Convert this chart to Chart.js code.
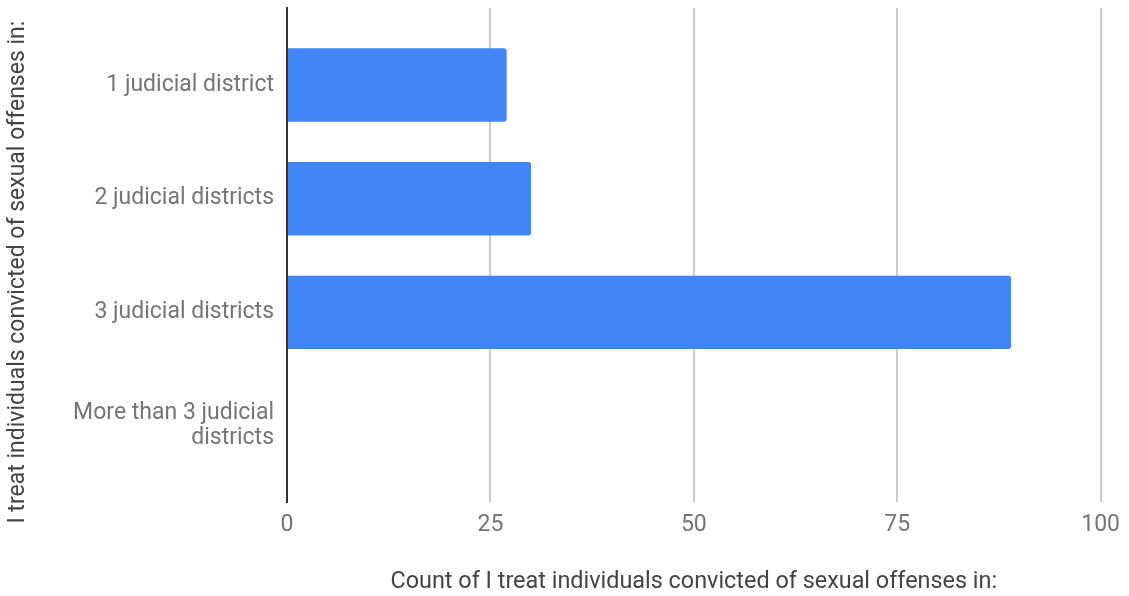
<!DOCTYPE html>
<html>
<head>
<meta charset="utf-8">
<script src="https://cdn.jsdelivr.net/npm/chart.js@4"></script>
<style>
  body { margin: 0; background: #fff; }
</style>
</head>
<body>
<canvas id="chart" width="1129" height="596"></canvas>
<script>
const categories = [
  "1 judicial district",
  "2 judicial districts",
  "3 judicial districts",
  ["More than 3 judicial", "districts"],
];
const counts = [27, 30, 89, 0];
const xTicks = [0, 25, 50, 75, 100];

const yTitle = "I treat individuals convicted of sexual offenses in:";
const xTitle = "Count of I treat individuals convicted of sexual offenses in:";

Chart.defaults.font.family = "Roboto, 'Open Sans', sans-serif";

const data = {
  datasets: [
    {
      label: xTitle,
      data: counts.map((v, i) => ({ x: v, y: i })),
      backgroundColor: "#4285f4",
      borderWidth: 0,
      borderRadius: 3,
      barPercentage: 0.646,
      categoryPercentage: 1,
    },
  ],
};

const chart = new Chart(document.getElementById("chart"), {
  type: "bar",
  data,
  options: {
    indexAxis: "y",
    responsive: false,
    animation: false,
    layout: { padding: { top: 8, right: 26, left: 0, bottom: 0 } },
    plugins: {
      legend: { display: false },
      tooltip: { enabled: false },
    },
    scales: {
      x: {
        type: "linear",
        min: xTicks[0],
        max: xTicks[xTicks.length - 1],
        afterBuildTicks: (scale) => {
          scale.ticks = xTicks.map((v) => ({ value: v }));
        },
        grid: {
          color: (ctx) => (ctx.tick && ctx.tick.value === 0 ? "rgba(0,0,0,0)" : "#cccccc"),
          lineWidth: 2,
          drawTicks: false,
        },
        border: { display: false },
        ticks: {
          color: "#757575",
          font: { size: 23 },
          padding: 9,
        },
        title: {
          display: true,
          text: xTitle,
          color: "#444444",
          font: { size: 23.4 },
          padding: { top: 0, bottom: 0 },
        },
        afterFit: (scale) => {
          scale.height = 94;
        },
      },
      y: {
        type: "linear",
        reverse: true,
        offset: false,
        min: -0.677,
        max: 3.668,
        afterBuildTicks: (scale) => {
          scale.ticks = categories.map((c, i) => ({ value: i }));
        },
        grid: { display: false, drawTicks: false, offset: false },
        border: { display: true, color: "#333333", width: 2 },
        ticks: {
          color: "#757575",
          font: { size: 23, lineHeight: 1.09 },
          padding: 13,
          callback: (v) => categories[v],
        },
        title: {
          display: true,
          // trailing spaces nudge the rotated title down a bit, like the original
          text: yTitle + "      ",
          color: "#444444",
          font: { size: 23 },
          padding: { top: 4, bottom: 0 },
        },
        afterFit: (scale) => {
          scale.width = 287;
          scale.paddingTop = 0;
          scale.paddingBottom = 0;
        },
      },
    },
  },
});
</script>
</body>
</html>
